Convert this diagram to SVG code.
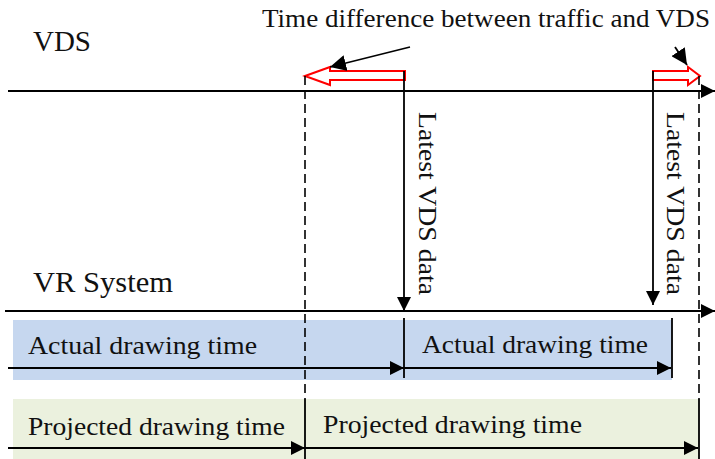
<svg xmlns="http://www.w3.org/2000/svg" width="715" height="459" viewBox="0 0 715 459">
  <defs>
    <style>
      .lbl { font-family: "Liberation Serif", "DejaVu Serif", serif; fill: #111; }
      .axis { stroke: #000; stroke-width: 2.2; fill: none; }
      .line { stroke: #000; stroke-width: 1.8; fill: none; }
      .dash { stroke: #000; stroke-width: 1.6; stroke-dasharray: 9 5; fill: none; }
      .hollow { fill: #fff; stroke: #ff0000; stroke-width: 2; stroke-linejoin: miter; }
    </style>
    <marker id="head" markerUnits="userSpaceOnUse" viewBox="0 0 14 14" refX="14" refY="7" markerWidth="14" markerHeight="14" orient="auto">
      <path d="M0,0 L14,7 L0,14 z" fill="#000"/>
    </marker>
    <marker id="bighead" markerUnits="userSpaceOnUse" viewBox="0 0 16 16" refX="16" refY="8" markerWidth="16" markerHeight="16" orient="auto">
      <path d="M0,0 L16,8 L0,16 z" fill="#000"/>
    </marker>
  </defs>

  <!-- timing bands -->
  <g id="actual-band">
    <rect x="13" y="320" width="659" height="60" fill="#c6d7ef"/>
  </g>
  <g id="projected-band">
    <rect x="13" y="399" width="686" height="60" fill="#ebf1de"/>
  </g>

  <!-- time axes -->
  <g id="vds-axis">
    <line class="axis" x1="8" y1="91" x2="715" y2="91" marker-end="url(#head)"/>
    <text class="lbl" x="33" y="51" font-size="29" textLength="58" lengthAdjust="spacingAndGlyphs">VDS</text>
  </g>
  <g id="vr-axis">
    <line class="axis" x1="5" y1="311" x2="715" y2="311" marker-end="url(#head)"/>
    <text class="lbl" x="33" y="292" font-size="29" textLength="140" lengthAdjust="spacingAndGlyphs">VR System</text>
  </g>

  <!-- time-difference indicators -->
  <g id="diff-left">
    <polygon class="hollow" points="305,76 330,67 330,71 405,71 405,80 330,80 330,85"/>
  </g>
  <g id="diff-right">
    <polygon class="hollow" points="653,71 688,71 688,67 700,76 688,85 688,80 653,80"/>
  </g>
  <g id="diff-label">
    <text class="lbl" x="262" y="27" font-size="25" textLength="448" lengthAdjust="spacingAndGlyphs">Time difference between traffic and VDS</text>
  </g>

  <!-- interval labels -->
  <g id="actual-1">
    <text class="lbl" x="28" y="354" font-size="25" textLength="229" lengthAdjust="spacingAndGlyphs">Actual drawing time</text>
  </g>
  <g id="actual-2">
    <text class="lbl" x="422" y="353" font-size="25" textLength="226" lengthAdjust="spacingAndGlyphs">Actual drawing time</text>
  </g>
  <g id="projected-1">
    <text class="lbl" x="28" y="435" font-size="25" textLength="257" lengthAdjust="spacingAndGlyphs">Projected drawing time</text>
  </g>
  <g id="projected-2">
    <text class="lbl" x="323" y="433" font-size="25" textLength="259" lengthAdjust="spacingAndGlyphs">Projected drawing time</text>
  </g>
  <g id="latest-1">
    <text class="lbl" transform="translate(419,112) rotate(90)" font-size="25" textLength="183" lengthAdjust="spacingAndGlyphs">Latest VDS data</text>
  </g>
  <g id="latest-2">
    <text class="lbl" transform="translate(667,112) rotate(90)" font-size="25" textLength="183" lengthAdjust="spacingAndGlyphs">Latest VDS data</text>
  </g>

  <!-- connectors -->
  <g id="connectors">
    <!-- boundaries of the projected frames -->
    <line class="dash" x1="305" y1="76" x2="305" y2="399"/>
    <line class="line" x1="305" y1="399" x2="305" y2="459"/>
    <line class="dash" x1="699" y1="76" x2="699" y2="399"/>
    <line class="line" x1="699" y1="399" x2="699" y2="459"/>

    <!-- VDS data delivered to the VR system -->
    <line class="line" x1="404" y1="71" x2="404" y2="311" marker-end="url(#head)"/>
    <line class="line" x1="653" y1="71" x2="653" y2="305" marker-end="url(#head)"/>

    <!-- frame ticks -->
    <line class="line" x1="404" y1="318" x2="404" y2="378"/>
    <line class="line" x1="672" y1="318" x2="672" y2="378"/>

    <!-- actual drawing intervals -->
    <line class="line" x1="8" y1="368" x2="404" y2="368" marker-end="url(#head)"/>
    <line class="line" x1="404" y1="368" x2="671" y2="368" marker-end="url(#head)"/>

    <!-- projected drawing intervals -->
    <line class="line" x1="8" y1="448" x2="305" y2="448" marker-end="url(#head)"/>
    <line class="line" x1="305" y1="448" x2="698" y2="448" marker-end="url(#head)"/>

    <!-- pointers to the time differences -->
    <line class="line" x1="410" y1="47" x2="330" y2="67" marker-end="url(#bighead)"/>
    <line class="line" x1="675" y1="47" x2="687" y2="65" marker-end="url(#bighead)"/>
  </g>
</svg>
